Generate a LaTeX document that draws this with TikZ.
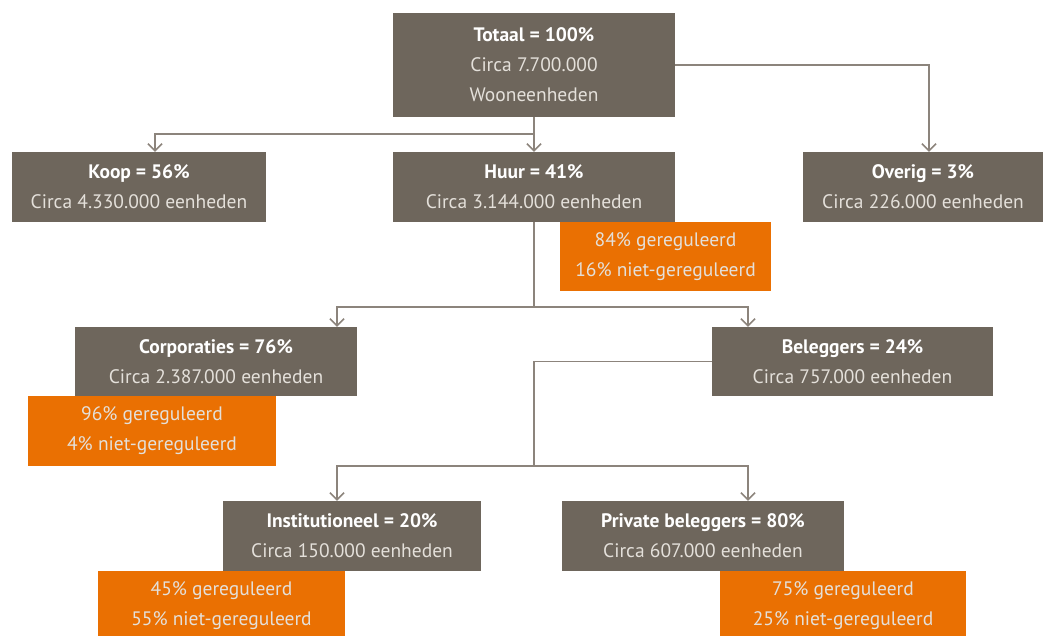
\documentclass[tikz,border=0pt]{standalone}
\usepackage{fontspec}
\setmainfont{PT Sans}
\usetikzlibrary{arrows.meta}
\definecolor{boxgray}{RGB}{110,102,92}
\definecolor{orng}{RGB}{234,112,2}
\definecolor{linegray}{RGB}{140,132,124}
\definecolor{subtext}{RGB}{228,224,218}
\tikzset{
  box/.style={fill=boxgray, text=subtext, inner sep=0pt, align=center,
    font=\fontsize{19.5}{30}\selectfont},
  regbox/.style={fill=orng, text=subtext, inner sep=0pt, align=center,
    font=\fontsize{19.5}{30}\selectfont},
  conn/.style={draw=linegray, line width=1.8pt},
  arr/.style={conn, -{Straight Barb[length=7pt,width=14pt,line width=1.6pt]}}
}
\newcommand{\hd}[1]{{\bfseries\color{white}#1}}
\begin{document}
\begin{tikzpicture}[x=1pt,y=-1pt]
\useasboundingbox (0,0) rectangle (1046,635);
\clip (0,0) rectangle (1046,635);

% first level
\node[box, minimum width=282pt, minimum height=104pt] (tot) at (534,65)
  {\hd{Totaal = 100\%}\\Circa 7.700.000\\Wooneenheden};
\node[box, minimum width=254pt, minimum height=70pt] (koop) at (139,187)
  {\hd{Koop = 56\%}\\Circa 4.330.000 eenheden};
\node[box, minimum width=282pt, minimum height=70pt] (huur) at (534,187)
  {\hd{Huur = 41\%}\\Circa 3.144.000 eenheden};
\node[box, minimum width=240pt, minimum height=70pt] (overig) at (923,187)
  {\hd{Overig = 3\%}\\Circa 226.000 eenheden};
\node[regbox, minimum width=211pt, minimum height=69pt] (huurreg) at (665.5,256.5)
  {84\% gereguleerd\\16\% niet-gereguleerd};

% rental split
\node[box, minimum width=282pt, minimum height=69pt] (corp) at (216,361.5)
  {\hd{Corporaties = 76\%}\\Circa 2.387.000 eenheden};
\node[regbox, minimum width=248pt, minimum height=70pt] (corpreg) at (152,431)
  {96\% gereguleerd\\4\% niet-gereguleerd};
\node[box, minimum width=281pt, minimum height=69pt] (bel) at (852.5,361.5)
  {\hd{Beleggers = 24\%}\\Circa 757.000 eenheden};

% investors split
\node[box, minimum width=258pt, minimum height=70pt] (inst) at (352,536)
  {\hd{Institutioneel = 20\%}\\Circa 150.000 eenheden};
\node[regbox, minimum width=247pt, minimum height=70pt] (instreg) at (221.5,606)
  {45\% gereguleerd\\55\% niet-gereguleerd};
\node[box, minimum width=282pt, minimum height=70pt] (priv) at (703,536)
  {\hd{Private beleggers = 80\%}\\Circa 607.000 eenheden};
\node[regbox, minimum width=246pt, minimum height=70pt] (privreg) at (843,606)
  {75\% gereguleerd\\25\% niet-gereguleerd};

% junctions
\coordinate (j1) at (534,134);
\coordinate (j2) at (534,307);
\coordinate (j3) at (534,466);

% connectors
\draw[arr] (tot.south) -- (huur.north);
\draw[arr] (j1) -| ([xshift=16pt]koop.north);
\draw[arr] (tot.east) -| ([xshift=6pt]overig.north);
\draw[conn] (huur.south) -- (j2);
\draw[arr] (j2) -| ([xshift=121pt]corp.north);
\draw[arr] (j2) -| ([xshift=-104.5pt]bel.north);
\draw[conn] (bel.west) -| (j3);
\draw[arr] (j3) -| ([xshift=-15pt]inst.north);
\draw[arr] (j3) -| ([xshift=45pt]priv.north);
\end{tikzpicture}
\end{document}
